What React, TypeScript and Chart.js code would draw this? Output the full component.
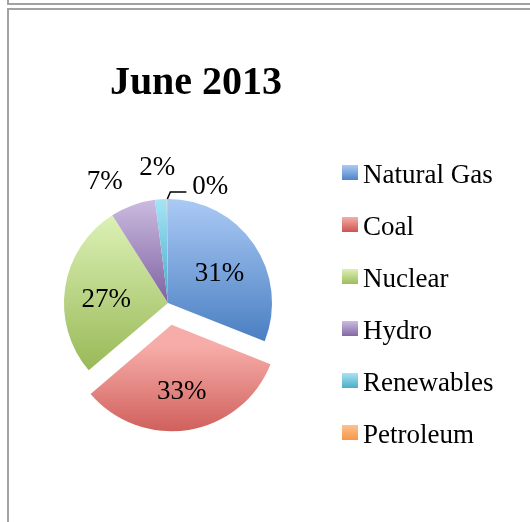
import React, { useEffect, useRef } from "react";
import { Chart, registerables } from "chart.js";

Chart.register(...registerables);

// ---- data ----
const chartTitle = "June 2013";
const categories = ["Natural Gas", "Coal", "Nuclear", "Hydro", "Renewables", "Petroleum"];
const shares = [31.0, 32.8, 27.2, 7.0, 1.8, 0.2];
const explodedCategory = "Coal";

// ---- styles ----
const lightColors = ["#abcaf5", "#f6aca8", "#dcf1b6", "#cbbbe0", "#a6e4f7", "#fdc28e"];
const baseColors = ["#4a7fc2", "#c84f4b", "#99b957", "#7f62a1", "#48a9c4", "#f79443"];
const FONT = "'Liberation Serif', 'Times New Roman', serif";
const EXPLODE = 88; // Chart.js translates by offset / 4
const TAU = Math.PI * 2;

function offsetFor(i: number) {
  return categories[i] === explodedCategory ? EXPLODE : 0;
}

function arcGeometry(chart: any, i: number) {
  const area = chart.chartArea;
  const cx = (area.left + area.right) / 2;
  const cy = (area.top + area.bottom) / 2;
  const r = (Math.min(area.right - area.left, area.bottom - area.top) - EXPLODE) / 2;
  const vals = chart.data.datasets[0].data as number[];
  const total = vals.reduce((a, b) => a + b, 0);
  let acc = 0;
  for (let k = 0; k < i; k++) acc += vals[k];
  const start = -Math.PI / 2 + (TAU * acc) / total;
  const end = start + (TAU * vals[i]) / total;
  const mid = (start + end) / 2;
  const shift = offsetFor(i) / 4;
  return { x: cx + Math.cos(mid) * shift, y: cy + Math.sin(mid) * shift, r, start, end, mid };
}

function sliceFill(c: any) {
  const chart = c.chart;
  const i = c.dataIndex;
  if (!chart.chartArea || i === undefined) return baseColors[i ?? 0];
  const g = arcGeometry(chart, i);
  const ys = [g.y, g.y + Math.sin(g.start) * g.r, g.y + Math.sin(g.end) * g.r];
  const within = (a: number) => a >= g.start && a <= g.end;
  if (within(-Math.PI / 2) || within(1.5 * Math.PI)) ys.push(g.y - g.r);
  if (within(Math.PI / 2)) ys.push(g.y + g.r);
  const y0 = Math.min(...ys);
  const y1 = Math.max(...ys);
  const grad = chart.ctx.createLinearGradient(0, y0, 0, y1 + 0.01);
  grad.addColorStop(0, lightColors[i]);
  grad.addColorStop(1, baseColors[i]);
  return grad;
}

type Box = { x0: number; x1: number; y0: number; y1: number };
const overlaps = (a: Box, b: Box) => a.x0 < b.x1 && a.x1 > b.x0 && a.y0 < b.y1 && a.y1 > b.y0;

const decorPlugin = {
  id: "decor",
  afterDatasetsDraw(chart: any) {
    const ctx = chart.ctx as CanvasRenderingContext2D;
    const meta = chart.getDatasetMeta(0);
    const vals = chart.data.datasets[0].data as number[];
    const total = vals.reduce((a, b) => a + b, 0);
    const fs = 27;
    ctx.save();
    ctx.fillStyle = "#000";
    ctx.strokeStyle = "#000";
    ctx.font = `${fs}px ${FONT}`;
    const digitHalf = fs * 0.338;
    const labelH = 20;
    const pad = 8;
    const placed: Box[] = [];
    for (let i = meta.data.length - 1; i >= 0; i--) {
      const arc = meta.data[i] as any;
      const pct = Math.round((vals[i] / total) * 100);
      const text = `${pct}%`;
      const mid = (arc.startAngle + arc.endAngle) / 2;
      const shift = offsetFor(i) / 4;
      const cx = arc.x + Math.cos(mid) * shift;
      const cy = arc.y + Math.sin(mid) * shift;
      const r = arc.outerRadius;
      const share = vals[i] / total;
      const w = ctx.measureText(text).width;
      if (share >= 0.1) {
        ctx.textAlign = "center";
        ctx.fillText(text, cx + Math.cos(mid) * r * 0.6, cy + Math.sin(mid) * r * 0.6 + digitHalf + 4);
      } else if (share >= 0.01) {
        const dist = r + 34;
        let ang = mid;
        let lx = 0;
        let ly = 0;
        for (let k = 0; k < 120; k++) {
          lx = cx + Math.cos(ang) * dist;
          ly = cy + Math.sin(ang) * dist;
          const b = { x0: lx - w / 2 - pad, x1: lx + w / 2 + pad, y0: ly - labelH / 2, y1: ly + labelH / 2 };
          if (!placed.some((p) => overlaps(p, b))) {
            placed.push(b);
            break;
          }
          ang -= Math.PI / 360;
        }
        ctx.textAlign = "center";
        ctx.fillText(text, lx, ly + digitHalf);
      } else {
        const sx = cx + Math.cos(mid) * r;
        const sy = cy + Math.sin(mid) * r;
        const kx = sx + 3;
        const ky = sy - 7;
        const ex = kx + 16;
        ctx.lineWidth = 1.5;
        ctx.beginPath();
        ctx.moveTo(sx, sy);
        ctx.lineTo(kx, ky);
        ctx.lineTo(ex, ky);
        ctx.stroke();
        ctx.textAlign = "left";
        const tx = ex + 6;
        const tyc = ky - 7;
        ctx.fillText(text, tx, tyc + digitHalf);
        placed.push({ x0: tx - pad, x1: tx + w + pad, y0: tyc - labelH / 2, y1: tyc + labelH / 2 });
      }
    }

    // title
    ctx.textAlign = "center";
    ctx.font = `bold 40px ${FONT}`;
    ctx.fillText(chartTitle, 196, 94);

    // legend
    const area = chart.chartArea;
    const pieCy = (area.top + area.bottom) / 2;
    const step = 52;
    const box = 16;
    const n = categories.length;
    const firstTop = pieCy - ((n - 1) * step + box) / 2;
    ctx.font = `${fs}px ${FONT}`;
    ctx.textAlign = "left";
    categories.forEach((name, i) => {
      const top = firstTop + i * step;
      const g = ctx.createLinearGradient(0, top, 0, top + box);
      g.addColorStop(0, lightColors[i]);
      g.addColorStop(1, baseColors[i]);
      ctx.fillStyle = g;
      ctx.fillRect(342, top, box, box - 1);
      ctx.fillStyle = "#000";
      ctx.fillText(name, 363, top + 18);
    });
    ctx.restore();
  },
};

export default function App() {
  const ref = useRef<HTMLCanvasElement | null>(null);
  useEffect(() => {
    if (!ref.current) return;
    const chart = new Chart(ref.current, {
      type: "pie",
      data: {
        labels: categories,
        datasets: [
          {
            data: shares,
            backgroundColor: sliceFill as any,
            borderWidth: 0,
            hoverBorderWidth: 0,
            hoverOffset: 0,
            offset: ((c: any) => offsetFor(c.dataIndex)) as any,
          },
        ],
      },
      options: {
        responsive: false,
        animation: false,
        devicePixelRatio: 1,
        layout: { padding: { left: 20, right: 214, top: 155, bottom: 71 } },
        plugins: {
          legend: { display: false },
          title: { display: false },
          tooltip: { enabled: false },
        },
        events: [],
      },
      plugins: [decorPlugin],
    });
    return () => chart.destroy();
  }, []);

  const line = "#a2a2a2";
  return (
    <div style={{ position: "absolute", left: 0, top: 0, width: 530, height: 522, overflow: "hidden", background: "#fff" }}>
      <div
        style={{
          position: "absolute",
          left: 7,
          top: -9,
          width: 600,
          height: 12,
          borderLeft: `2px solid ${line}`,
          borderBottom: `2px solid ${line}`,
        }}
      />
      <div
        style={{
          position: "absolute",
          left: 7,
          top: 8,
          width: 600,
          height: 600,
          borderLeft: `2px solid ${line}`,
          borderTop: `2px solid ${line}`,
        }}
      />
      <canvas ref={ref} width={530} height={522} style={{ position: "absolute", left: 0, top: 0 }} />
    </div>
  );
}
